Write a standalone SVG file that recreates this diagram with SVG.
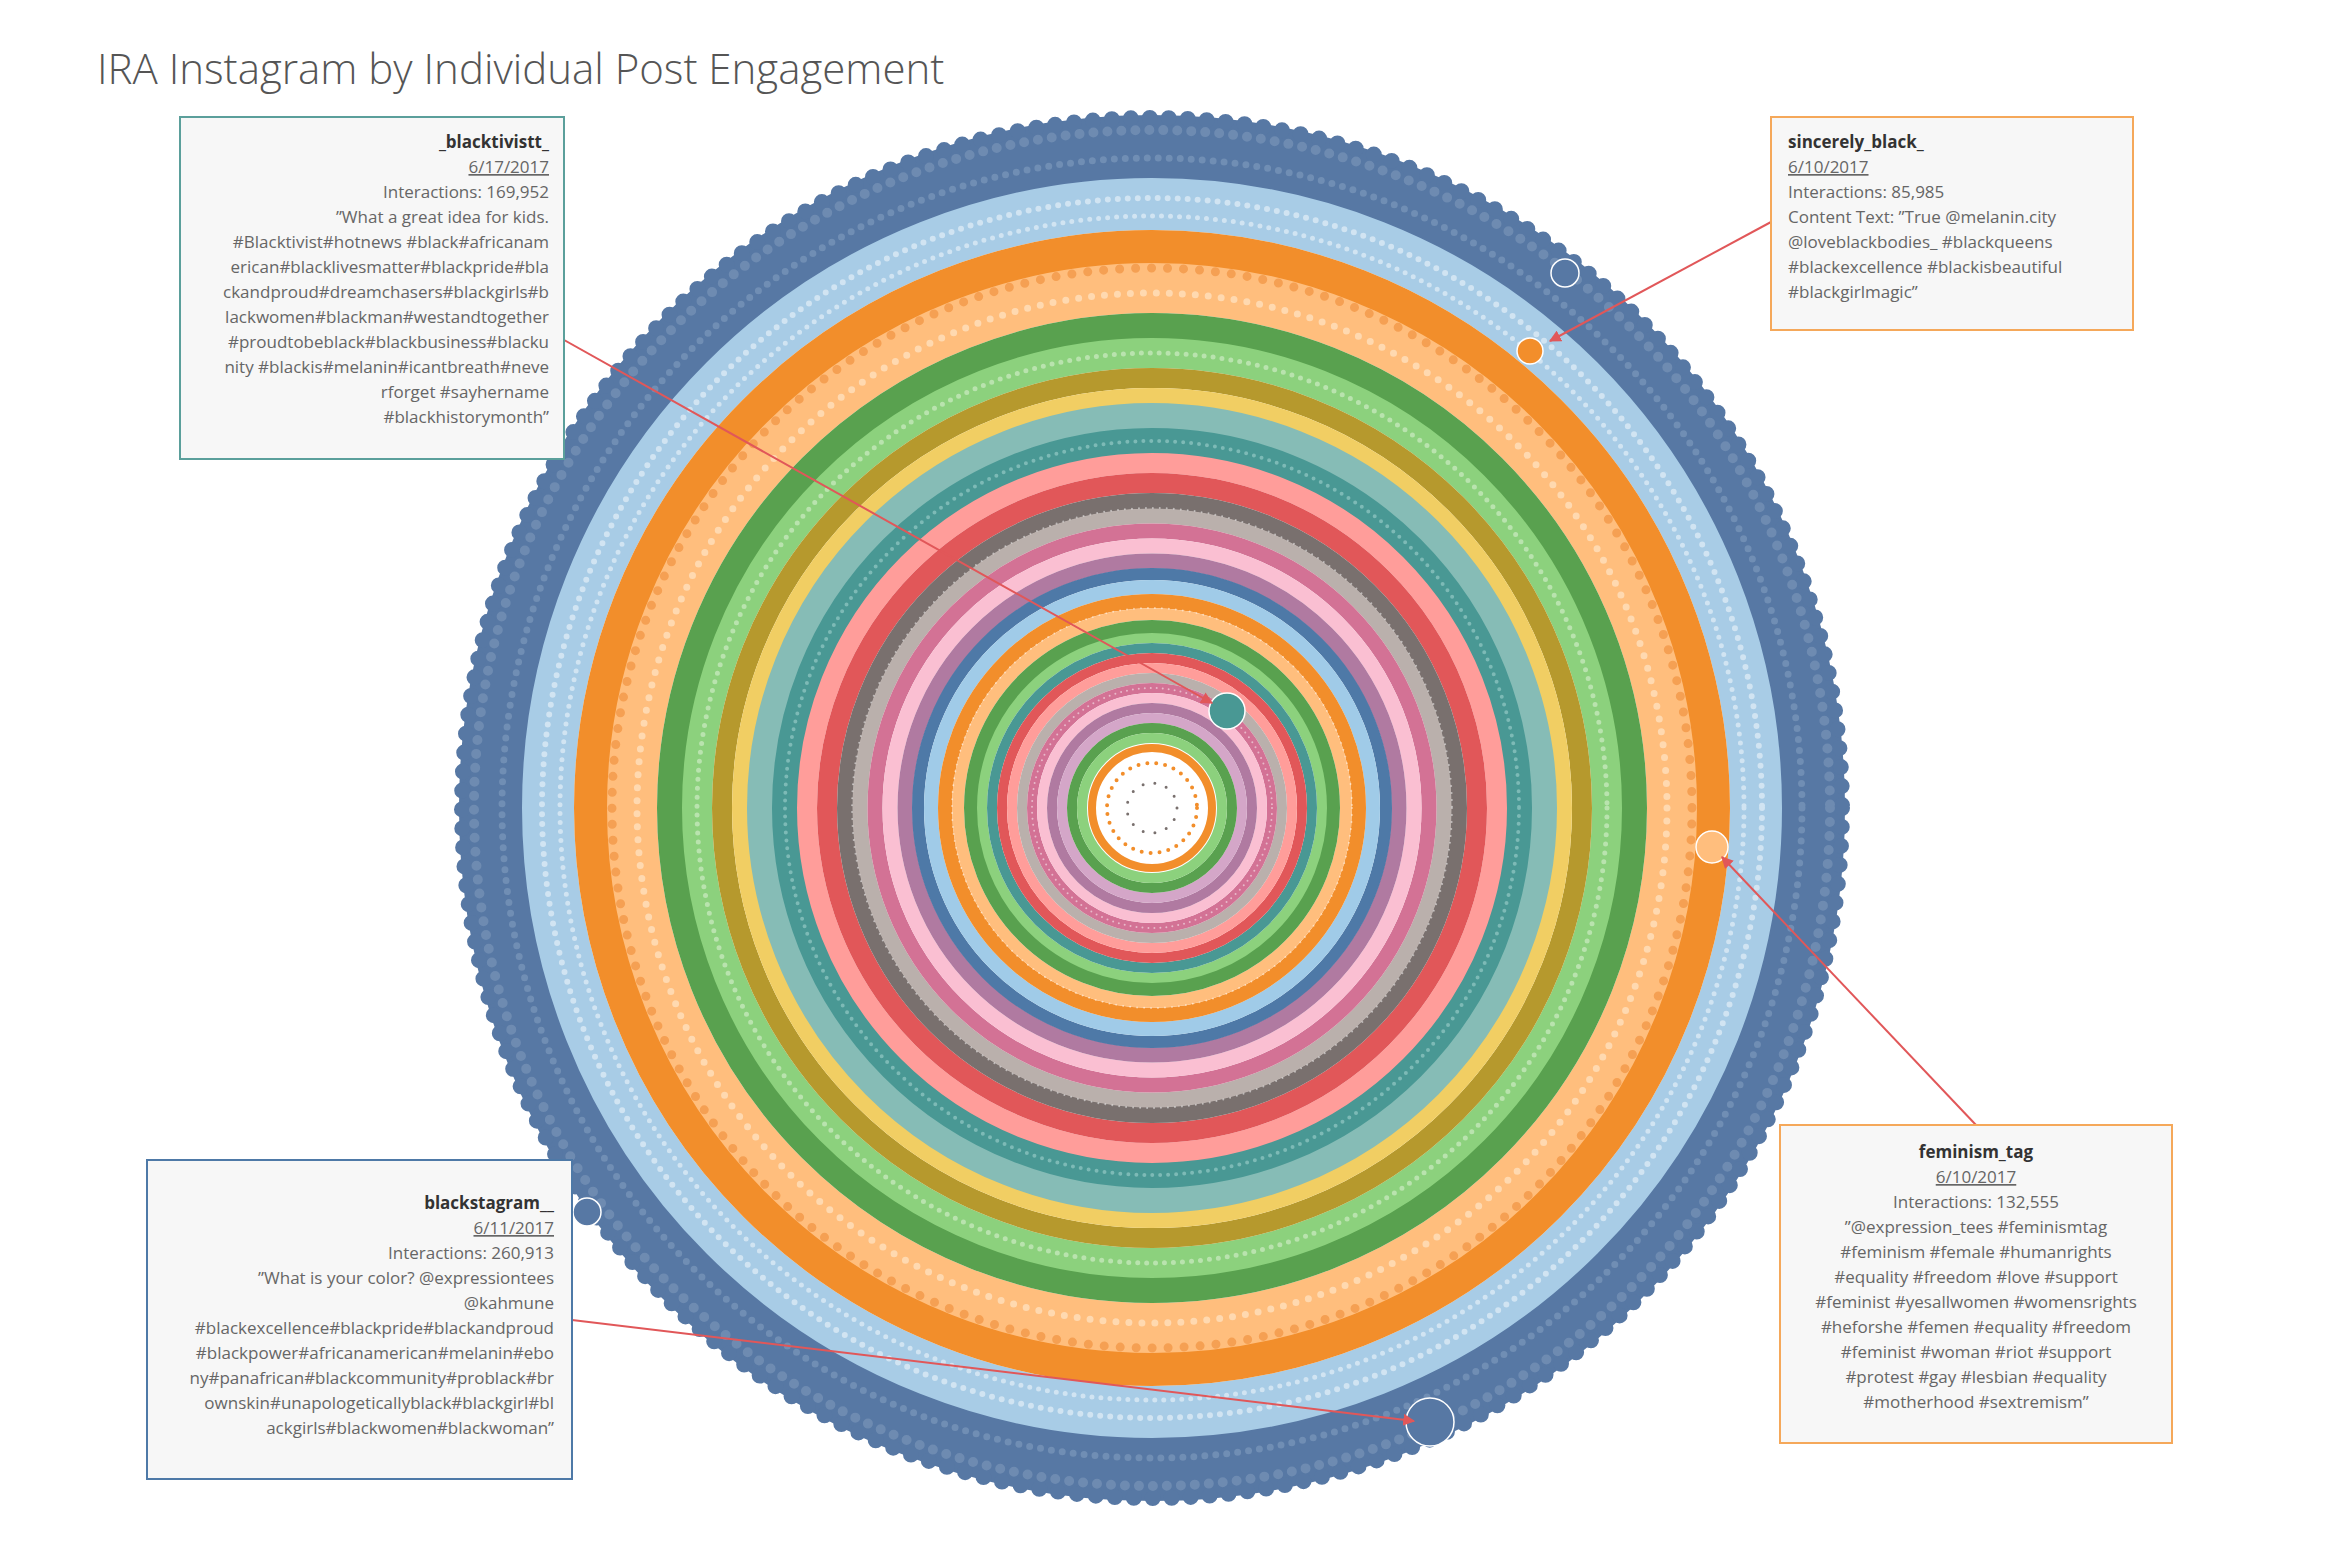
<svg xmlns="http://www.w3.org/2000/svg" width="2340" height="1560" viewBox="0 0 2340 1560">
<style>
.b{fill:none}
.d{fill:none;stroke-linecap:round}
.t{font-family:"Open Sans","Liberation Sans",sans-serif;font-size:17px;fill:#666}
.n{font-weight:bold;fill:#333}
.u{text-decoration:underline}
.box{fill:#f7f7f7;stroke-width:2}
.c{stroke:#e15759;stroke-width:2;fill:none;marker-end:url(#ah)}
.h{stroke:#fff;stroke-width:1.5}
</style>
<defs>
<marker id="ah" viewBox="0 0 10 10" refX="9" refY="5" markerWidth="6" markerHeight="6" orient="auto"><path d="M0,0L10,5L0,10z" fill="#e15759"/></marker>
</defs>
<rect width="2340" height="1560" fill="#fff"/>
<text x="97" y="84" font-family="Open Sans,Liberation Sans,sans-serif" font-size="42" fill="#555" font-weight="300">IRA Instagram by Individual Post Engagement</text>
<g id="rings" transform="translate(1152,808)">
<circle class="b" r="661" stroke="#5778a4" stroke-width="64"/>
<circle class="d" r="690" stroke="#5778a4" stroke-width="16" stroke-dasharray="0 19"/>
<circle class="d" r="678" stroke="#7d97ba" stroke-width="10" stroke-dasharray="0 14" opacity=".6"/>
<circle class="d" r="650" stroke="#8aa3c4" stroke-width="7" stroke-dasharray="0 11" opacity=".5"/>
<circle class="b" r="604" stroke="#a8cce6" stroke-width="52"/>
<circle class="d" r="610" stroke="#dbeaf5" stroke-width="6" stroke-dasharray="0 10" opacity=".8"/>
<circle class="d" r="592" stroke="#dbeaf5" stroke-width="5" stroke-dasharray="0 9" opacity=".8"/>
<circle class="b" r="561" stroke="#f28e2b" stroke-width="34"/>
<circle class="b" r="520" stroke="#ffbe7d" stroke-width="50"/>
<circle class="d" r="540" stroke="#f5a053" stroke-width="9" stroke-dasharray="0 16"/>
<circle class="d" r="515" stroke="#ffd9b0" stroke-width="7" stroke-dasharray="0 13"/>
<circle class="b" r="482" stroke="#59a14f" stroke-width="26"/>
<circle class="b" r="455" stroke="#8cd17d" stroke-width="30"/>
<circle class="d" r="455" stroke="#b9e3ae" stroke-width="5" stroke-dasharray="0 9"/>
<circle class="b" r="430" stroke="#b6992d" stroke-width="20"/>
<circle class="b" r="412" stroke="#f1ce63" stroke-width="16"/>
<circle class="b" r="392" stroke="#86bcb6" stroke-width="26"/>
<circle class="b" r="367" stroke="#499894" stroke-width="26"/>
<circle class="d" r="367" stroke="#7dbab6" stroke-width="4" stroke-dasharray="0 8"/>
<circle class="b" r="345" stroke="#ff9d9a" stroke-width="20"/>
<circle class="b" r="325" stroke="#e15759" stroke-width="20"/>
<circle class="b" r="307" stroke="#79706e" stroke-width="16"/>
<circle class="b" r="292" stroke="#bab0ac" stroke-width="15"/>
<circle class="b" r="277" stroke="#d37295" stroke-width="15"/>
<circle class="b" r="262" stroke="#fabfd2" stroke-width="15"/>
<circle class="b" r="247" stroke="#b07aa1" stroke-width="15"/>
<circle class="b" r="234" stroke="#4e79a7" stroke-width="12"/>
<circle class="b" r="221" stroke="#a0cbe8" stroke-width="14"/>
<circle class="b" r="207" stroke="#f28e2b" stroke-width="14"/>
<circle class="b" r="194" stroke="#ffbe7d" stroke-width="12"/>
<circle class="b" r="181" stroke="#59a14f" stroke-width="14"/>
<circle class="b" r="170" stroke="#8cd17d" stroke-width="10"/>
<circle class="b" r="160" stroke="#499894" stroke-width="10"/>
<circle class="b" r="150" stroke="#e15759" stroke-width="10"/>
<circle class="b" r="140" stroke="#ff9d9a" stroke-width="10"/>
<circle class="b" r="130" stroke="#bab0ac" stroke-width="10"/>
<circle class="b" r="120" stroke="#d37295" stroke-width="10"/>
<circle class="b" r="110" stroke="#fabfd2" stroke-width="10"/>
<circle class="b" r="100" stroke="#b07aa1" stroke-width="10"/>
<circle class="b" r="90" stroke="#d4a6c8" stroke-width="10"/>
<circle class="b" r="80" stroke="#59a14f" stroke-width="10"/>
<circle class="b" r="70" stroke="#8cd17d" stroke-width="10"/>
<circle class="b" r="60" stroke="#f28e2b" stroke-width="8"/>
<circle class="d" r="45" stroke="#f28e2b" stroke-width="4" stroke-dasharray="0 9"/>
<circle class="d" r="25" stroke="#79706e" stroke-width="3" stroke-dasharray="0 12"/>
<circle class="d" r="300" stroke="#fff" stroke-width="2" stroke-dasharray="0 7" opacity=".5"/>
<circle class="d" r="200" stroke="#fff" stroke-width="2" stroke-dasharray="0 7" opacity=".5"/>
<circle class="d" r="120" stroke="#fff" stroke-width="2" stroke-dasharray="0 6" opacity=".5"/>
</g>
<g id="highlights">
<circle class="h" cx="1227" cy="711" r="18" fill="#499894"/>
<circle class="h" cx="1530" cy="351" r="13" fill="#f28e2b"/>
<circle class="h" cx="1712" cy="847" r="16" fill="#ffbe7d"/>
<circle class="h" cx="1430" cy="1422" r="24" fill="#5778a4"/>
<circle class="h" cx="1565" cy="273" r="14" fill="#5778a4"/>
<circle class="h" cx="587" cy="1212" r="14" fill="#5778a4"/>
</g>
<g id="connectors">
<line class="c" x1="532" y1="322" x2="1212" y2="703"/>
<line class="c" x1="1771" y1="222" x2="1550" y2="341"/>
<line class="c" x1="1976" y1="1125" x2="1722" y2="857" stroke-width="4"/>
<line class="c" x1="572" y1="1320" x2="1414" y2="1421"/>
</g>
<g id="box1">
<rect class="box" x="180" y="117" width="384" height="342" stroke="#5b9f9b"/>
<g text-anchor="end">
<text class="t n" x="549" y="148">_blacktivistt_</text>
<text class="t u" x="549" y="173">6/17/2017</text>
<text class="t" x="549" y="198">Interactions: 169,952</text>
<text class="t" x="549" y="223">”What a great idea for kids.</text>
<text class="t" x="549" y="248">#Blacktivist#hotnews #black#africanam</text>
<text class="t" x="549" y="273">erican#blacklivesmatter#blackpride#bla</text>
<text class="t" x="549" y="298">ckandproud#dreamchasers#blackgirls#b</text>
<text class="t" x="549" y="323">lackwomen#blackman#westandtogether</text>
<text class="t" x="549" y="348">#proudtobeblack#blackbusiness#blacku</text>
<text class="t" x="549" y="373">nity #blackis#melanin#icantbreath#neve</text>
<text class="t" x="549" y="398">rforget #sayhername</text>
<text class="t" x="549" y="423">#blackhistorymonth”</text>
</g>
</g>
<g id="box2">
<rect class="box" x="1771" y="117" width="362" height="213" stroke="#f5a85a"/>
<text class="t n" x="1788" y="148">sincerely_black_</text>
<text class="t u" x="1788" y="173">6/10/2017</text>
<text class="t" x="1788" y="198">Interactions: 85,985</text>
<text class="t" x="1788" y="223">Content Text: ”True @melanin.city</text>
<text class="t" x="1788" y="248">@loveblackbodies_ #blackqueens</text>
<text class="t" x="1788" y="273">#blackexcellence #blackisbeautiful</text>
<text class="t" x="1788" y="298">#blackgirlmagic”</text>
</g>
<g id="box3">
<rect class="box" x="1780" y="1125" width="392" height="318" stroke="#f5a85a"/>
<g text-anchor="middle">
<text class="t n" x="1976" y="1158">feminism_tag</text>
<text class="t u" x="1976" y="1183">6/10/2017</text>
<text class="t" x="1976" y="1208">Interactions: 132,555</text>
<text class="t" x="1976" y="1233">”@expression_tees #feminismtag</text>
<text class="t" x="1976" y="1258">#feminism #female #humanrights</text>
<text class="t" x="1976" y="1283">#equality #freedom #love #support</text>
<text class="t" x="1976" y="1308">#feminist #yesallwomen #womensrights</text>
<text class="t" x="1976" y="1333">#heforshe #femen #equality #freedom</text>
<text class="t" x="1976" y="1358">#feminist #woman #riot #support</text>
<text class="t" x="1976" y="1383">#protest #gay #lesbian #equality</text>
<text class="t" x="1976" y="1408">#motherhood #sextremism”</text>
</g>
</g>
<g id="box4">
<rect class="box" x="147" y="1160" width="425" height="319" stroke="#4e79a7"/>
<g text-anchor="end">
<text class="t n" x="554" y="1209">blackstagram__</text>
<text class="t u" x="554" y="1234">6/11/2017</text>
<text class="t" x="554" y="1259">Interactions: 260,913</text>
<text class="t" x="554" y="1284">”What is your color? @expressiontees</text>
<text class="t" x="554" y="1309">@kahmune</text>
<text class="t" x="554" y="1334">#blackexcellence#blackpride#blackandproud</text>
<text class="t" x="554" y="1359">#blackpower#africanamerican#melanin#ebo</text>
<text class="t" x="554" y="1384">ny#panafrican#blackcommunity#problack#br</text>
<text class="t" x="554" y="1409">ownskin#unapologeticallyblack#blackgirl#bl</text>
<text class="t" x="554" y="1434">ackgirls#blackwomen#blackwoman”</text>
</g>
</g>
</svg>
